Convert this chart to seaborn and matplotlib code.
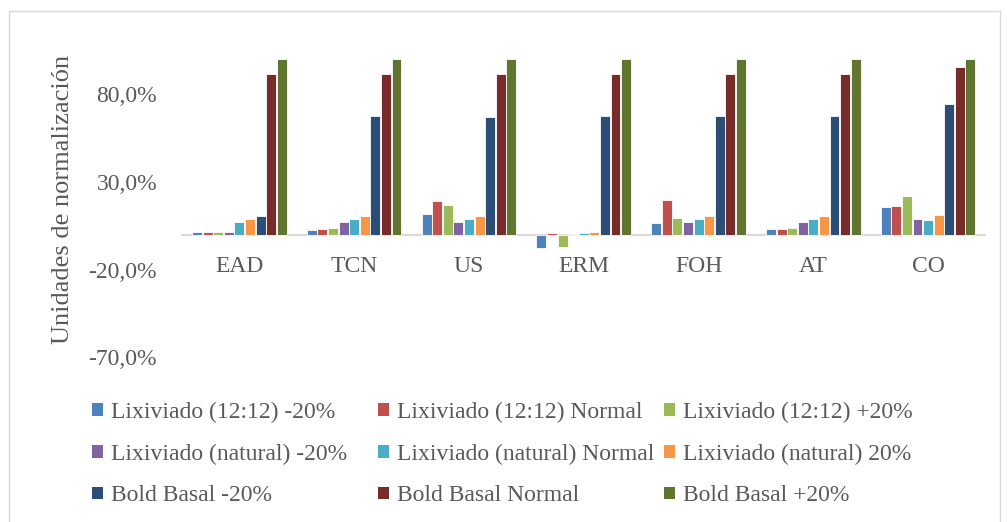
import matplotlib
matplotlib.use("Agg")
import matplotlib.pyplot as plt
from matplotlib.patches import Patch, Rectangle
import pandas as pd
import seaborn as sns

# Categories and series
categories = ["EAD", "TCN", "US", "ERM", "FOH", "AT", "CO"]
series = [
    "Lixiviado (12:12) -20%",
    "Lixiviado (12:12) Normal",
    "Lixiviado (12:12) +20%",
    "Lixiviado (natural) -20%",
    "Lixiviado (natural) Normal",
    "Lixiviado (natural) 20%",
    "Bold Basal -20%",
    "Bold Basal Normal",
    "Bold Basal +20%",
]

# Normalized values (%) per series, one entry per category
lix1212_m20 = [1.2, 2.7, 11.7, -7.5, 6.7, 2.9, 15.8]
lix1212_norm = [1.2, 3.1, 19.1, 0.9, 19.5, 3.1, 16.2]
lix1212_p20 = [1.2, 3.7, 16.6, -7.1, 9.4, 3.7, 22.1]
lixnat_m20 = [1.5, 7.3, 7.3, 0.3, 7.3, 7.3, 8.6]
lixnat_norm = [7.3, 8.8, 8.8, 0.9, 8.8, 8.8, 8.1]
lixnat_p20 = [8.8, 10.5, 10.5, 1.4, 10.5, 10.5, 11.1]
bold_m20 = [10.5, 67.3, 67.0, 67.3, 67.3, 67.3, 74.2]
bold_norm = [91.6, 91.6, 91.6, 91.6, 91.6, 91.6, 95.6]
bold_p20 = [100.0, 100.0, 100.0, 100.0, 100.0, 100.0, 100.0]

values = [lix1212_m20, lix1212_norm, lix1212_p20,
          lixnat_m20, lixnat_norm, lixnat_p20,
          bold_m20, bold_norm, bold_p20]

colors = ["#4F81BD", "#C0504D", "#9BBB59",
          "#8064A2", "#4BACC6", "#F79646",
          "#2C4D75", "#772C2A", "#5F7530"]

rows = []
for s, vals in zip(series, values):
    for c, v in zip(categories, vals):
        rows.append({"Categoría": c, "Serie": s, "Valor": v})
df = pd.DataFrame(rows)

sns.set_theme(style="white")
plt.rcParams["font.family"] = ["Liberation Serif", "DejaVu Serif"]
text_color = "#595959"

W, H = 1007, 522
fig = plt.figure(figsize=(W / 100, H / 100), dpi=100)

# Outer chart frame
fig.add_artist(Rectangle((9 / W, -0.01), (1000 - 9) / W, 1 - 11 / H + 0.01,
                         transform=fig.transFigure, fill=False,
                         edgecolor="#D9D9D9", linewidth=1.0))

ax_left, ax_right = 182 / W, 985.5 / W
ax_top, ax_bottom = 41.5 / H, 357.4 / H
ax = fig.add_axes([ax_left, 1 - ax_bottom, ax_right - ax_left, ax_bottom - ax_top])

sns.barplot(data=df, x="Categoría", y="Valor", hue="Serie",
            hue_order=series, order=categories, palette=colors,
            saturation=1, width=0.83, gap=0.06, edgecolor="white",
            linewidth=0.6, legend=False, ax=ax)

ax.set_ylim(-70, 110)
ax.set_xlim(-0.5, len(categories) - 0.5)
ax.set_yticks([-70, -20, 30, 80])
ax.set_yticklabels([f"{t:.1f}%".replace(".", ",") for t in [-70, -20, 30, 80]])
ax.set_xlabel("")
ax.set_ylabel("")
for name in ["top", "right", "left"]:
    ax.spines[name].set_visible(False)
# Category axis sits on the zero line
ax.spines["bottom"].set_position(("data", 0))
ax.spines["bottom"].set_color("#D9D9D9")
ax.spines["bottom"].set_linewidth(1.5)
ax.spines["bottom"].set_zorder(0.5)
ax.tick_params(axis="y", length=0, pad=18, labelsize=17, labelcolor=text_color)
ax.tick_params(axis="x", length=0, pad=15.5, labelsize=17, labelcolor=text_color)

fig.text(63 / W, 1 - 199 / H, "Unidades de normalización", rotation=90,
         ha="center", va="center", fontsize=19, color=text_color)

# Legend: three columns, filled row by row
col_x = [92, 378, 664]
for ci in range(3):
    idx = [ci, ci + 3, ci + 6]
    handles = [Patch(facecolor=colors[i], edgecolor="none") for i in idx]
    labels = [series[i] for i in idx]
    leg = fig.legend(handles, labels, loc="upper left",
                     bbox_to_anchor=(col_x[ci] / W, 1 - 402 / H),
                     frameon=False, fontsize=17, borderpad=0, borderaxespad=0,
                     handlelength=0.45, handleheight=0.45, handletextpad=0.35,
                     labelspacing=0.87)
    for t in leg.get_texts():
        t.set_color(text_color)

fig.savefig("out.png", dpi=100, facecolor="white")
